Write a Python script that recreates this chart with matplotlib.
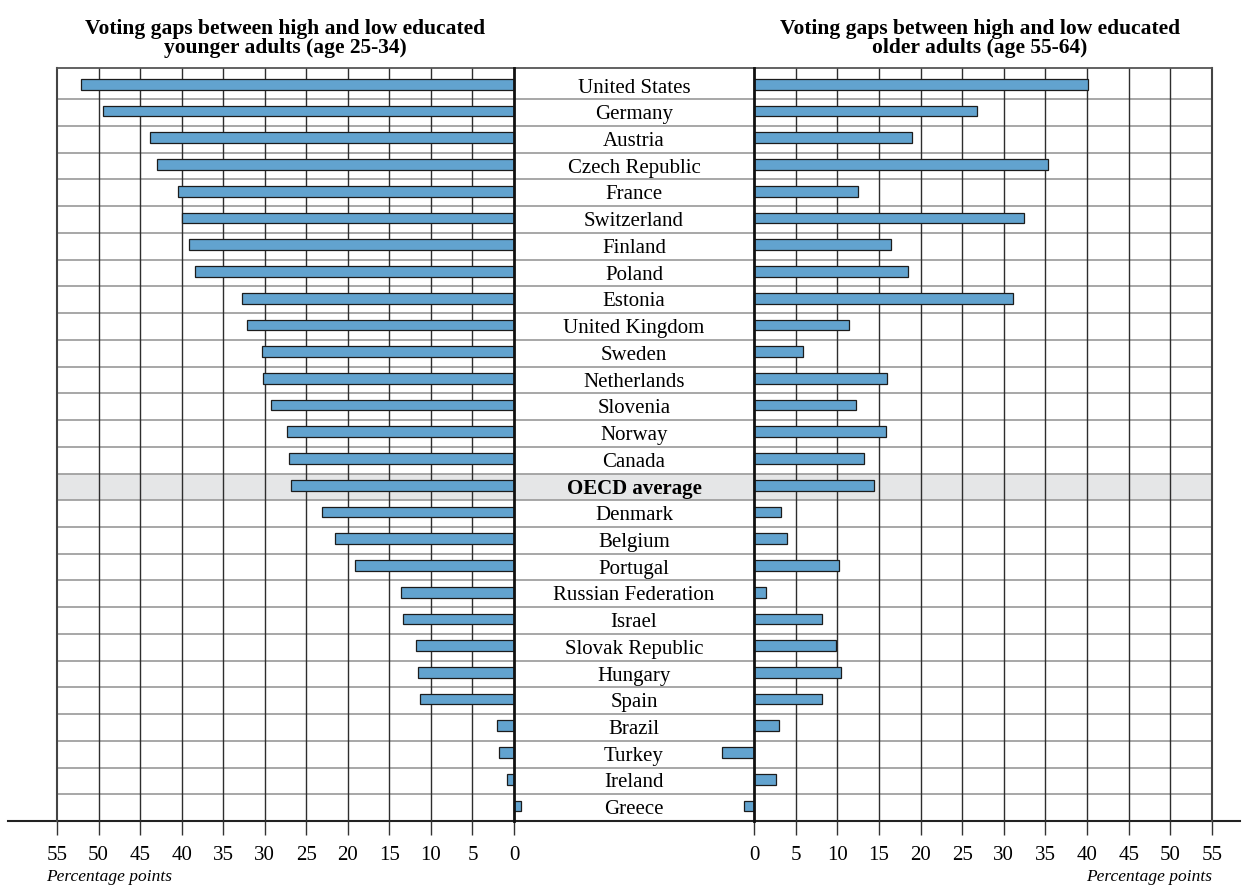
import matplotlib
matplotlib.use("Agg")
import matplotlib.pyplot as plt
from matplotlib.lines import Line2D

countries = ["United States", "Germany", "Austria", "Czech Republic", "France",
             "Switzerland", "Finland", "Poland", "Estonia", "United Kingdom",
             "Sweden", "Netherlands", "Slovenia", "Norway", "Canada",
             "OECD average", "Denmark", "Belgium", "Portugal", "Russian Federation",
             "Israel", "Slovak Republic", "Hungary", "Spain", "Brazil", "Turkey",
             "Ireland", "Greece"]
younger = [52.1, 49.5, 43.8, 43.0, 40.4, 40.0, 39.1, 38.4, 32.7, 32.1,
           30.3, 30.2, 29.2, 27.3, 27.1, 26.8, 23.1, 21.5, 19.1, 13.6,
           13.4, 11.8, 11.5, 11.3, 2.0, 1.8, 0.9, -0.8]
older = [40.1, 26.8, 19.0, 35.3, 12.5, 32.4, 16.4, 18.5, 31.1, 11.4,
         5.9, 16.0, 12.3, 15.8, 13.2, 14.4, 3.2, 4.0, 10.2, 1.4,
         8.2, 9.9, 10.4, 8.2, 3.0, -3.8, 2.7, -1.2]
ticks = list(range(0, 60, 5))
title_left = "Voting gaps between high and low educated\nyounger adults (age 25-34)"
title_right = "Voting gaps between high and low educated\nolder adults (age 55-64)"
xlabel = "Percentage points"
highlight = "OECD average"

plt.rcParams['font.family'] = ['Liberation Serif', 'DejaVu Serif']

W, H = 1247, 887
fig = plt.figure(figsize=(W / 100, H / 100), dpi=100)

y_top_px, y_bot_px = 69.3, 822.0
bot = 1 - y_bot_px / H
hgt = (y_bot_px - y_top_px) / H

def px(x):
    return x / W

axL = fig.add_axes([px(57), bot, px(514 - 57), hgt], zorder=2)
axC = fig.add_axes([px(514), bot, px(754 - 514), hgt], zorder=1)
axR = fig.add_axes([px(754), bot, px(1212 - 754), hgt], zorder=2)

n = len(countries)
ypos = list(range(n))
ylim = (n - 1 + 0.56, -0.6)
bar_color = "#62a3cf"
edge = "#1c1c1c"
hi = countries.index(highlight)

for ax in (axL, axC, axR):
    ax.set_ylim(*ylim)
    ax.set_yticks([])
    ax.patch.set_alpha(0)
    ax.axhspan(hi - 0.44, hi + 0.56, color="#e5e6e7", zorder=0, lw=0)
    for i in range(n - 1):
        ax.axhline(i + 0.56, color="#a0a0a0", lw=1.3, zorder=1)
    for s in ("left", "right", "bottom"):
        ax.spines[s].set_visible(False)
    ax.spines["top"].set_color("#555555")
    ax.spines["top"].set_linewidth(1.3)

axL.set_xlim(55, 0)
axR.set_xlim(0, 55)
axC.set_xlim(0, 1)
axC.set_xticks([])

for ax, vals in ((axL, younger), (axR, older)):
    for t in ticks[1:-1]:
        ax.axvline(t, color="#2e2e2e", lw=1.0, zorder=1)
    ax.barh(ypos, vals, height=0.4, color=bar_color, edgecolor=edge,
            linewidth=0.9, zorder=3, clip_on=False)
    ax.set_xticks(ticks)
    ax.set_xticklabels([str(t) for t in ticks], fontsize=15)
    ax.tick_params(axis="x", direction="out", length=10, width=1.0,
                   color="#333333", pad=7)

# outer borders and zero lines
axL.spines["left"].set_visible(True)
axL.spines["left"].set_color("#444444")
axL.spines["left"].set_linewidth(1.5)
axL.spines["right"].set_visible(True)
axL.spines["right"].set_color("#111111")
axL.spines["right"].set_linewidth(2.0)
axL.spines["right"].set_zorder(4)
axR.spines["right"].set_visible(True)
axR.spines["right"].set_color("#444444")
axR.spines["right"].set_linewidth(1.5)
axR.spines["left"].set_visible(True)
axR.spines["left"].set_color("#111111")
axR.spines["left"].set_linewidth(2.0)
axR.spines["left"].set_zorder(4)

for i, c in enumerate(countries):
    axC.text(0.5, i + 0.1, c, ha="center", va="center", fontsize=15,
             fontweight="bold" if c == highlight else "normal", zorder=4)

# bottom axis line across the figure
fig.add_artist(Line2D([px(8), px(1240)], [bot, bot], color="#222222", lw=1.5,
                      transform=fig.transFigure))

fig.text(px(285.5), 1 - 58 / H, title_left, ha="center", va="bottom",
         fontsize=15.5, fontweight="bold", linespacing=0.95)
fig.text(px(980), 1 - 58 / H, title_right, ha="center", va="bottom",
         fontsize=15.5, fontweight="bold", linespacing=0.95)

fig.text(px(46), 1 - 877 / H, xlabel, ha="left", va="center",
         fontsize=12.5, style="italic")
fig.text(px(1212), 1 - 877 / H, xlabel, ha="right", va="center",
         fontsize=12.5, style="italic")

fig.savefig("out.png", dpi=100)
